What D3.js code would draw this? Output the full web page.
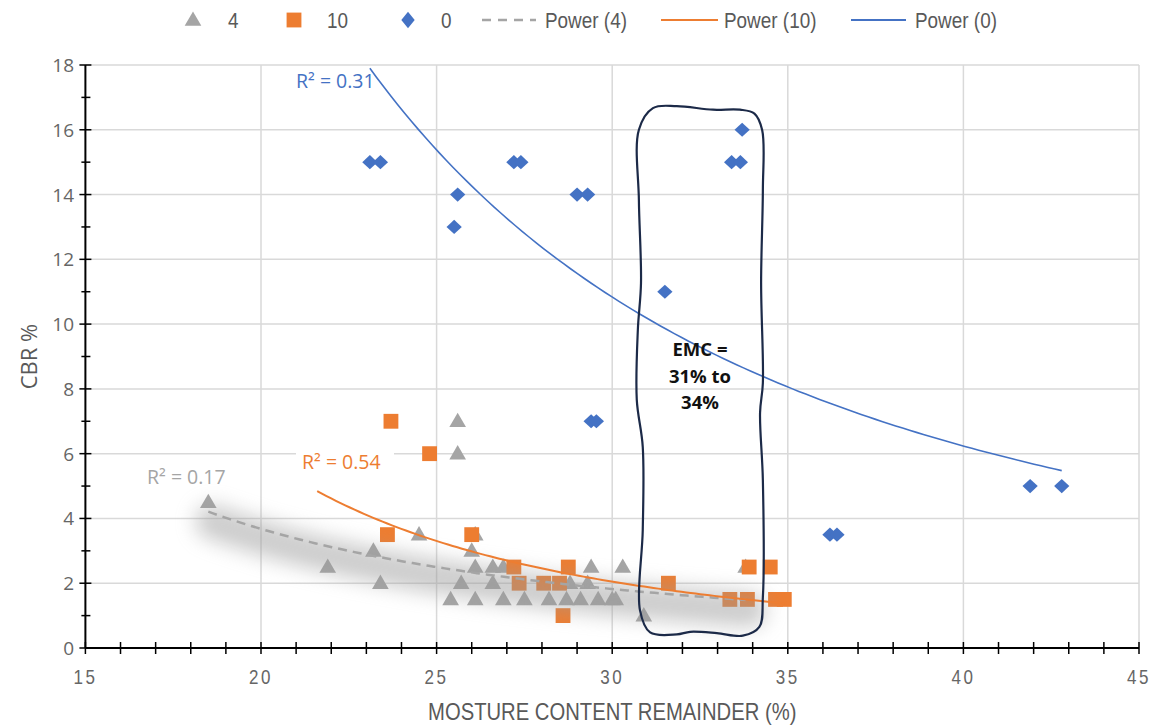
<!DOCTYPE html>
<html>
<head>
<meta charset="utf-8">
<script src="https://d3js.org/d3.v7.min.js"></script>
<style>
	body { margin: 0; background: #fff; }
	svg { display: block; }
</style>
</head>
<body>
<svg id="chart" width="1158" height="726"></svg>
<script>
// Data: moisture content (x) and CBR % (y) for each series

var series4X  = [18.5, 21.9, 23.2, 23.4, 24.5, 25.6, 25.6, 25.4, 25.7, 26.0, 26.1, 26.1, 26.1, 26.6, 26.6,
                 26.9, 26.9, 27.5, 28.2, 28.7, 28.8, 29.1, 29.3, 29.4, 29.6, 30.0, 30.1, 30.3, 30.9, 33.8];
var series4Y  = [4.5, 2.5, 3, 2, 3.5, 7, 6, 1.5, 2, 3, 3.5, 2.5, 1.5, 2.5, 2,
                 2.5, 1.5, 1.5, 1.5, 1.5, 2, 1.5, 2, 2.5, 1.5, 1.5, 1.5, 2.5, 1, 2.5];

var series10X = [23.7, 24.8, 23.6, 26.0, 27.2, 27.35, 28.05, 28.5, 28.75, 28.6, 31.6, 33.35, 33.85, 33.9, 34.5, 34.65, 34.9];
var series10Y = [7, 6, 3.5, 3.5, 2.5, 2, 2, 2, 2.5, 1, 2, 1.5, 1.5, 2.5, 2.5, 1.5, 1.5];

var series0X  = [23.1, 23.4, 25.6, 25.5, 27.2, 27.4, 29.0, 29.3, 31.5, 33.4, 33.65, 33.7, 29.4, 29.55, 36.2, 36.4, 41.9, 42.8];
var series0Y  = [15, 15, 14, 13, 15, 15, 14, 14, 11, 15, 15, 16, 7, 7, 3.5, 3.5, 5, 5];

// Power trendlines y = a * x^b, with the x span they are drawn over
var trendNames = ['Power (4)', 'Power (10)', 'Power (0)'];
var trendA     = [659, 15095, 7429];
var trendB     = [-1.732, -2.618, -1.920];
var trendFrom  = [18.5, 21.6, 23.1];
var trendTo    = [33.8, 34.9, 42.8];
var trendR2    = ['R² = 0.17', 'R² = 0.54', 'R² = 0.31'];

// Axis ticks
var xTicks = [15, 20, 25, 30, 35, 40, 45];
var yTicks = [0, 2, 4, 6, 8, 10, 12, 14, 16, 18];

// Hand-drawn EMC outline, in data units (clockwise from top left)
var emcOutlineX = [31.16, 31.84, 32.87, 33.64, 34.05, 34.27, 34.29, 34.24, 34.29, 34.21, 34.29, 34.29, 34.19,
                   33.72, 32.98, 32.22, 31.84, 31.08, 30.79, 30.87, 30.87, 30.70, 30.73, 30.82, 30.76, 30.76];
var emcOutlineY = [16.67, 16.73, 16.62, 16.62, 16.5, 15.99, 14.14, 11.27, 8.18, 7.26, 5.19, 1.57, 0.65,
                   0.38, 0.46, 0.50, 0.42, 0.48, 1.17, 3.64, 6.21, 7.66, 9.82, 11.27, 13.83, 16.0];
var emcText = ['EMC =', '31% to', '34%'];

var grey = '#a5a5a5', orange = '#ed7d31', blue = '#4472c4';
var textGrey = '#595959';

var svg = d3.select('svg#chart');

var xScale = d3.scaleLinear().domain([15, 45]).range([85.4, 1139]);
var yScale = d3.scaleLinear().domain([0, 18]).range([648, 65]);

var font = '"Open Sans", "Noto Sans", sans-serif';
var sans = '"Liberation Sans", Arial, sans-serif';

// Blur used for the glow round the grey trendline
svg.append('defs')
	.append('filter')
	.attr('id', 'blur')
	.attr('x', '-20%').attr('y', '-60%')
	.attr('width', '140%').attr('height', '220%')
	.append('feGaussianBlur')
	.attr('stdDeviation', 10);

// Gridlines
svg.append('g')
	.selectAll('line')
	.data(xTicks.slice(1))
	.enter()
	.append('line')
	.attr('x1', function (d) { return xScale(d); })
	.attr('x2', function (d) { return xScale(d); })
	.attr('y1', yScale(18))
	.attr('y2', yScale(0))
	.style('stroke', '#d9d9d9')
	.style('stroke-width', 1.5);

svg.append('g')
	.selectAll('line')
	.data(yTicks.slice(1))
	.enter()
	.append('line')
	.attr('x1', xScale(15))
	.attr('x2', xScale(45))
	.attr('y1', function (d) { return yScale(d); })
	.attr('y2', function (d) { return yScale(d); })
	.style('stroke', '#d9d9d9')
	.style('stroke-width', 1.5);

// Axes (black line with crossing ticks)
var axisG = svg.append('g');

axisG.append('line')
	.attr('x1', xScale(15)).attr('x2', xScale(15))
	.attr('y1', yScale(18)).attr('y2', yScale(0))
	.style('stroke', '#000').style('stroke-width', 2);

axisG.append('line')
	.attr('x1', xScale(15)).attr('x2', xScale(45))
	.attr('y1', yScale(0)).attr('y2', yScale(0))
	.style('stroke', '#000').style('stroke-width', 2);

axisG.selectAll('line.yt')
	.data(d3.range(0, 19, 1))
	.enter()
	.append('line')
	.attr('class', 'yt')
	.attr('x1', function (d) { return xScale(15) - (d % 2 ? 4 : 6); })
	.attr('x2', function (d) { return xScale(15) + (d % 2 ? 5 : 6); })
	.attr('y1', function (d) { return yScale(d); })
	.attr('y2', function (d) { return yScale(d); })
	.style('stroke', '#000').style('stroke-width', 1.5);

axisG.selectAll('line.xt')
	.data(d3.range(15, 46, 1))
	.enter()
	.append('line')
	.attr('class', 'xt')
	.attr('x1', function (d) { return xScale(d); })
	.attr('x2', function (d) { return xScale(d); })
	.attr('y1', yScale(0) - 6).attr('y2', yScale(0) + 6)
	.style('stroke', '#000').style('stroke-width', 1.5);

// Tick labels
svg.append('g')
	.selectAll('text')
	.data(yTicks)
	.enter()
	.append('text')
	.attr('x', 74)
	.attr('y', function (d) { return yScale(d) + 7; })
	.text(function (d) { return d; })
	.style('text-anchor', 'end')
	.style('font-family', font)
	.style('font-size', '19px')
	.style('fill', '#666');

svg.append('g')
	.selectAll('text')
	.data(xTicks)
	.enter()
	.append('text')
	.attr('transform', function (d) { return 'translate(' + xScale(d) + ',684) scale(0.85,1)'; })
	.text(function (d) { return d; })
	.style('text-anchor', 'middle')
	.style('font-family', sans)
	.style('font-size', '20px')
	.style('letter-spacing', '3px')
	.style('fill', '#666');

// Axis titles
svg.append('text')
	.attr('transform', 'translate(' + xScale(30) + ',720) scale(0.88,1)')
	.text('MOSTURE CONTENT REMAINDER (%)')
	.style('text-anchor', 'middle')
	.style('font-family', sans)
	.style('font-size', '23px')
	.style('fill', textGrey);

svg.append('text')
	.attr('transform', 'translate(37,' + yScale(9) + ') rotate(-90)')
	.text('CBR %')
	.style('text-anchor', 'middle')
	.style('font-family', font)
	.style('font-size', '22px')
	.style('fill', textGrey);

// Markers
var tri = d3.symbol().type(d3.symbolTriangle).size(120);
var sq = d3.symbol().type(d3.symbolSquare).size(220);
var dia = d3.symbol().type(d3.symbolSquare).size(100);

svg.append('g')
	.selectAll('path')
	.data(series4X)
	.enter()
	.append('path')
	.attr('d', tri)
	.attr('transform', function (d, i) {
		return 'translate(' + xScale(d) + ',' + (yScale(series4Y[i]) + 1) + ')';
	})
	.style('fill', grey);

svg.append('g')
	.selectAll('path')
	.data(series10X)
	.enter()
	.append('path')
	.attr('d', sq)
	.attr('transform', function (d, i) {
		return 'translate(' + xScale(d) + ',' + yScale(series10Y[i]) + ')';
	})
	.style('fill', orange);

svg.append('g')
	.selectAll('path')
	.data(series0X)
	.enter()
	.append('path')
	.attr('d', dia)
	.attr('transform', function (d, i) {
		return 'translate(' + xScale(d) + ',' + yScale(series0Y[i]) + ') scale(1.08,1) rotate(45)';
	})
	.style('fill', blue);

// Trendline paths
function trendPoints(i) {
	var pts = [];
	var step = (trendTo[i] - trendFrom[i]) / 100;
	for (var k = 0; k <= 100; k++) {
		var x = trendFrom[i] + k * step;
		pts.push([x, trendA[i] * Math.pow(x, trendB[i])]);
	}
	return pts;
}

var line = d3.line()
	.x(function (d) { return xScale(d[0]); })
	.y(function (d) { return yScale(Math.min(d[1], 18.2)); });

// Soft glow round the grey trend, laid over the markers
svg.append('path')
	.attr('d', line(trendPoints(0)))
	.attr('transform', 'translate(4,10)')
	.attr('filter', 'url(#blur)')
	.style('fill', 'none')
	.style('stroke', '#9a9a9a')
	.style('stroke-width', 34)
	.style('stroke-linecap', 'round')
	.style('opacity', 0.5);

svg.append('path')
	.attr('d', line(trendPoints(0)))
	.style('fill', 'none')
	.style('stroke', grey)
	.style('stroke-width', 2.5)
	.style('stroke-dasharray', '9,6');

svg.append('path')
	.attr('d', line(trendPoints(1)))
	.style('fill', 'none')
	.style('stroke', orange)
	.style('stroke-width', 2);

svg.append('path')
	.attr('d', line(trendPoints(2)))
	.style('fill', 'none')
	.style('stroke', blue)
	.style('stroke-width', 1.6);

// R² labels
var r2Pos = [[147, 484], [302, 469], [296, 88]];
var r2Col = [grey, orange, blue];

r2Pos.forEach(function (p, i) {
	if (i === 1) {
		svg.append('rect')
			.attr('x', p[0] - 6).attr('y', p[1] - 19)
			.attr('width', 98).attr('height', 26)
			.style('fill', '#fff');
	}
	svg.append('text')
		.attr('x', p[0])
		.attr('y', p[1])
		.text(trendR2[i])
		.style('font-family', font)
		.style('font-size', '19.5px')
		.style('fill', r2Col[i]);
});

// EMC hand-drawn outline
var outline = d3.line()
	.x(function (d) { return xScale(emcOutlineX[d]); })
	.y(function (d) { return yScale(emcOutlineY[d]); })
	.curve(d3.curveCatmullRomClosed.alpha(0.5));

svg.append('path')
	.attr('d', outline(d3.range(emcOutlineX.length)))
	.style('fill', 'none')
	.style('stroke', '#1c2a48')
	.style('stroke-width', 2.2);

svg.append('g')
	.selectAll('text')
	.data(emcText)
	.enter()
	.append('text')
	.attr('x', xScale(32.5))
	.attr('y', function (d, i) { return 356 + i * 26.5; })
	.text(function (d) { return d; })
	.style('text-anchor', 'middle')
	.style('font-family', font)
	.style('font-weight', 'bold')
	.style('font-size', '18.5px')
	.style('fill', '#111');

// Legend
var legend = svg.append('g');
var ly = 20;

legend.append('path').attr('d', tri).attr('transform', 'translate(193,' + (ly + 1) + ')').style('fill', grey);
legend.append('path').attr('d', sq).attr('transform', 'translate(294,' + ly + ')').style('fill', orange);
legend.append('path').attr('d', dia).attr('transform', 'translate(408,' + ly + ') scale(0.95,1.15) rotate(45)').style('fill', blue);

legend.append('line').attr('x1', 482).attr('x2', 536).attr('y1', ly).attr('y2', ly)
	.style('stroke', grey).style('stroke-width', 2.5).style('stroke-dasharray', '9,7');
legend.append('line').attr('x1', 661).attr('x2', 718).attr('y1', ly).attr('y2', ly)
	.style('stroke', orange).style('stroke-width', 2);
legend.append('line').attr('x1', 851).attr('x2', 906).attr('y1', ly).attr('y2', ly)
	.style('stroke', blue).style('stroke-width', 2);

var legendText = ['4', '10', '0'].concat(trendNames);
var legendX = [228, 327, 441, 545, 724, 915];

legend.selectAll('text')
	.data(legendText)
	.enter()
	.append('text')
	.attr('transform', function (d, i) { return 'translate(' + legendX[i] + ',' + (ly + 8) + ') scale(0.86,1)'; })
	.text(function (d) { return d; })
	.style('font-family', sans)
	.style('font-size', '22px')
	.style('fill', textGrey);
</script>
</body>
</html>
